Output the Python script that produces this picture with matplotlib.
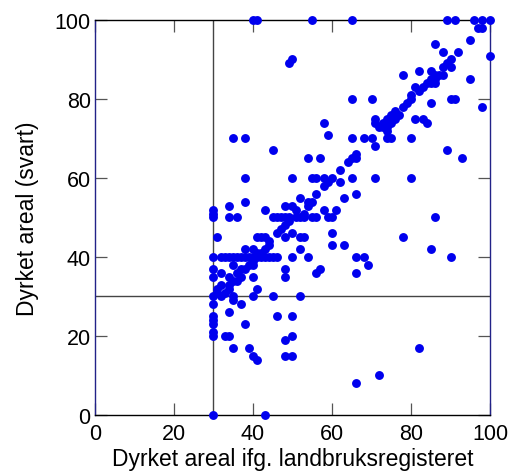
import matplotlib.pyplot as plt
import numpy as np

plt.rcParams['font.family'] = ['Liberation Sans', 'DejaVu Sans']

# dyrket areal ifølge landbruksregisteret (x) mot oppgitt i svar (y), prosent
register = [
    40, 41, 55, 65, 89, 91, 96, 98, 100,
    97, 98, 95, 92, 86, 88, 100,
    49, 50, 90, 89, 88, 90, 82, 85, 78, 88, 86,
    85, 86, 95, 85, 86, 81, 83, 82, 80,
    65, 70, 80, 90, 91, 79, 85, 78, 98,
    77, 75, 71, 74, 81, 83, 58, 71, 73, 84, 73, 74, 74, 59,
    35, 38, 65, 68, 70, 74, 75, 80,
    71, 45, 89, 66, 54, 57, 66, 93, 64, 65, 62,
    38, 50, 55, 56, 58, 60, 65, 71, 80, 59, 62, 58, 56, 66, 52, 63,
    38, 54, 34, 48, 50, 30, 43, 58, 61, 51, 30,
    30, 34, 36, 45, 46, 47, 48, 49, 51, 52, 53, 55, 56, 59, 60, 86,
    49, 48, 47, 46, 50, 60,
    31, 41, 42, 43, 48, 52, 53, 78, 44, 60, 63,
    38, 40, 43, 52, 85, 41,
    30, 32, 33, 34, 35, 36, 37, 38, 39, 40, 41, 42, 43, 44, 45, 46,
    50, 54, 66, 68, 90,
    40, 35, 40, 69, 37, 38, 30, 48, 57, 56, 66, 32, 36,
    30, 34, 37, 40, 48, 35, 32, 34, 31, 34, 41, 31,
    30, 32, 35, 40, 45, 52, 35, 30, 37, 34, 30, 46, 50, 30, 30, 38,
    30, 30, 33, 34, 50, 48, 35, 39, 82, 40, 48, 50, 41,
    72, 66, 30, 43,
    42, 44, 53, 54, 55, 75, 76, 87, 84, 76, 72, 33, 36, 39,
]
svar = [
    100, 100, 100, 100, 100, 100, 100, 100, 100,
    98, 98, 95, 92, 94, 92, 91,
    89, 90, 90, 89, 88, 88, 87, 87, 86, 86, 86,
    85, 85, 85, 84, 84, 83, 83, 82, 81,
    80, 80, 80, 80, 80, 79, 79, 78, 78,
    76, 76, 75, 75, 75, 75, 74, 74, 74, 74, 73, 73, 72, 71,
    70, 70, 70, 70, 70, 70, 70, 70,
    68, 67, 67, 66, 65, 65, 65, 65, 64, 65, 62,
    60, 60, 60, 60, 60, 60, 60, 60, 60, 59, 59, 58, 56, 56, 55, 55,
    54, 54, 53, 53, 53, 52, 52, 52, 52, 52, 51,
    50, 50, 50, 50, 50, 50, 50, 50, 50, 50, 50, 50, 50, 50, 50, 50,
    49, 48, 47, 46, 46, 46,
    45, 45, 45, 45, 45, 45, 45, 45, 44, 43, 43,
    42, 42, 42, 42, 42, 41,
    40, 40, 40, 40, 40, 40, 40, 40, 40, 40, 40, 40, 40, 40, 40, 40,
    40, 40, 40, 40, 40,
    39, 38, 38, 38, 37, 37, 37, 37, 37, 36, 36, 36, 36,
    35, 35, 35, 35, 35, 34, 33, 33, 32, 32, 32, 31,
    30, 30, 30, 30, 30, 30, 29, 28, 28, 26, 25, 25, 25, 24, 23, 23,
    21, 20, 20, 20, 20, 19, 17, 17, 17, 15, 15, 15, 14,
    10, 8, 0, 0,
    41, 43, 51, 53, 54, 74, 75, 86, 84, 77, 73, 31, 34, 38,
]
terskel = 30

fig = plt.figure(figsize=(5.1, 4.77), dpi=100)
ax = fig.add_axes([0.186, 0.128, 0.775, 0.828])

ax.axvline(terskel, color='#444444', lw=1.0, zorder=1)
ax.axhline(terskel, color='#444444', lw=1.0, zorder=1)
ax.plot(register, svar, 'o', color='#0000ee', markersize=6.4,
        markeredgewidth=0, clip_on=False, zorder=3)

ax.set_xlim(0, 100)
ax.set_ylim(0, 100)
ax.set_xticks(np.arange(0, 101, 20))
ax.set_yticks(np.arange(0, 101, 20))
ax.tick_params(direction='in', length=8.5, width=0.9, color='#555555',
               top=True, right=True, labelsize=15.5)
ax.tick_params(axis='x', pad=6)
ax.tick_params(axis='y', pad=3)
for side in ('top', 'bottom'):
    ax.spines[side].set_color('black')
for side in ('left', 'right'):
    ax.spines[side].set_color('#222288')
for sp in ax.spines.values():
    sp.set_linewidth(1.0)

ax.set_xlabel('Dyrket areal ifg. landbruksregisteret', fontsize=16.5, labelpad=2)
ax.set_ylabel('Dyrket areal (svart)', fontsize=16.5, labelpad=11)

fig.savefig('out.png', dpi=100)
